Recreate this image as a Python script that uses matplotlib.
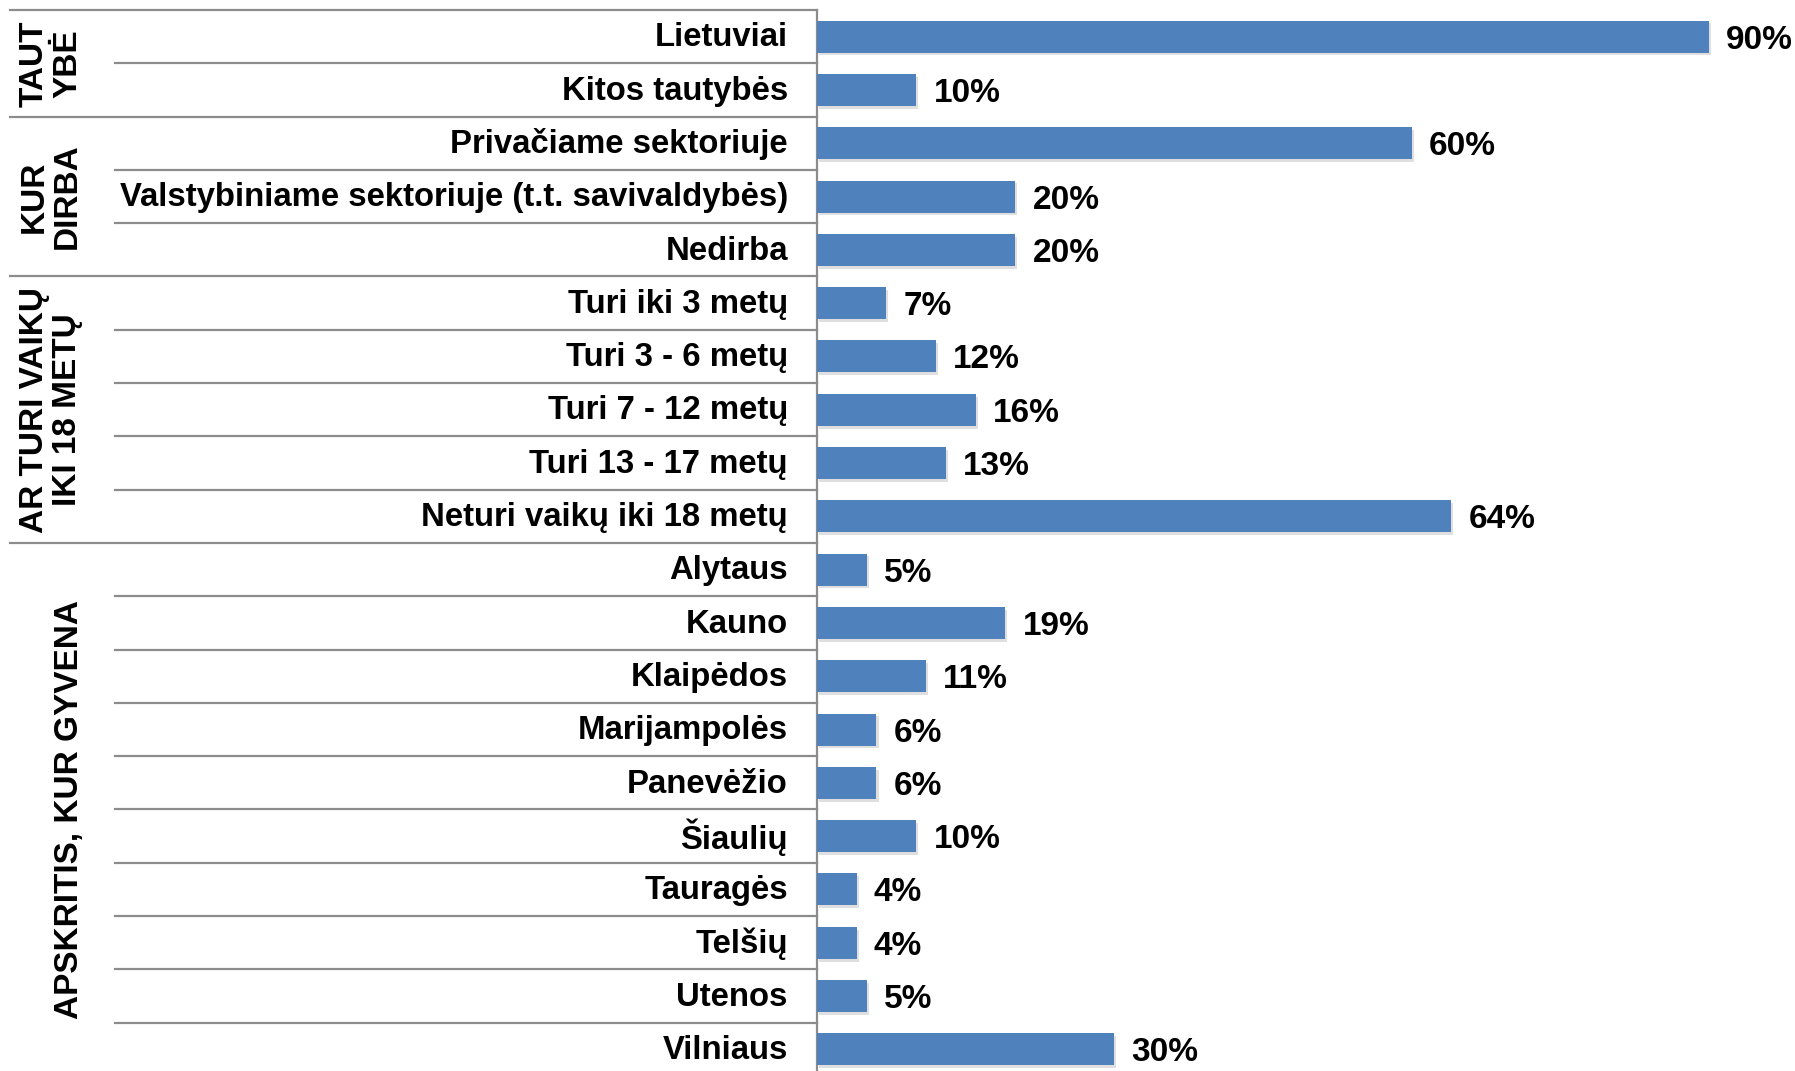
import matplotlib.pyplot as plt
import matplotlib.patheffects as pe
from matplotlib.transforms import ScaledTranslation

plt.rcParams['font.family'] = ['Liberation Sans', 'DejaVu Sans']
plt.rcParams['font.weight'] = 'bold'

# categories (top to bottom) and values in %
labels = ['Lietuviai', 'Kitos tautybės',
          'Privačiame sektoriuje', 'Valstybiniame sektoriuje (t.t. savivaldybės)', 'Nedirba',
          'Turi iki 3 metų', 'Turi 3 - 6 metų', 'Turi 7 - 12 metų', 'Turi 13 - 17 metų',
          'Neturi vaikų iki 18 metų',
          'Alytaus', 'Kauno', 'Klaipėdos', 'Marijampolės', 'Panevėžio', 'Šiaulių',
          'Tauragės', 'Telšių', 'Utenos', 'Vilniaus']
values = [90, 10, 60, 20, 20, 7, 12, 16, 13, 64,
          5, 19, 11, 6, 6, 10, 4, 4, 5, 30]

group_names = ['TAUT\nYBĖ', 'KUR\nDIRBA', 'AR TURI VAIKŲ\nIKI 18 METŲ', 'APSKRITIS, KUR GYVENA']
group_sizes = [2, 3, 5, 10]

W, H = 1795, 1071
fig = plt.figure(figsize=(W / 100, H / 100), dpi=100)
ax_left, ax_top, ax_bot = 817, 10, 1076
ax = fig.add_axes([ax_left / W, (H - ax_bot) / H, (W - ax_left) / W, (ax_bot - ax_top) / H])

pos = list(range(len(labels)))
bars = ax.barh(pos, values, height=0.6, color='#4F81BD', zorder=3)
for b in bars:
    b.set_path_effects([pe.SimplePatchShadow(offset=(1.5, -2), shadow_rgbFace='#b0b0b0', alpha=0.4),
                        pe.Normal()])

ax.set_ylim(len(labels) - 0.5, -0.5)
ax.set_xlim(0, (W - ax_left) / 9.91)

for s in ['top', 'right', 'bottom']:
    ax.spines[s].set_visible(False)
ax.spines['left'].set_color('#8c8c8c')
ax.spines['left'].set_linewidth(1.6)
ax.set_xticks([])
ax.set_yticks(pos)
ax.set_yticklabels(labels, fontsize=23.7, fontweight='bold', va='center_baseline')
ax.tick_params(axis='y', length=0, pad=21)
up = ScaledTranslation(0, 2.3 / 100, fig.dpi_scale_trans)
for lab in ax.get_yticklabels():
    lab.set_transform(lab.get_transform() + up)

axw = W - ax_left
for p, v in zip(pos, values):
    ax.text(v + 1.75, p, f'{v}%', va='center_baseline', ha='left', fontsize=24, fontweight='bold')

# separator lines and group labels
tr = ax.get_yaxis_transform()
group_x0 = -(ax_left - 10) / axw
inner_x0 = -(ax_left - 115) / axw
start = 0
for gname, gsize in zip(group_names, group_sizes):
    ax.plot([group_x0, 0], [start - 0.5, start - 0.5], transform=tr, color='#8c8c8c',
            lw=1.6, clip_on=False)
    for k in range(1, gsize):
        y = start + k - 0.5
        ax.plot([inner_x0, 0], [y, y], transform=tr, color='#8c8c8c', lw=1.6, clip_on=False)
    xc = 51 if '\n' in gname else 70
    ax.text(-(ax_left - xc) / axw, start + (gsize - 1) / 2, gname, transform=tr,
            rotation=90, ha='center', va='center', multialignment='center',
            fontsize=24, fontweight='bold', linespacing=1.1)
    start += gsize

fig.savefig('out.png', dpi=100)
